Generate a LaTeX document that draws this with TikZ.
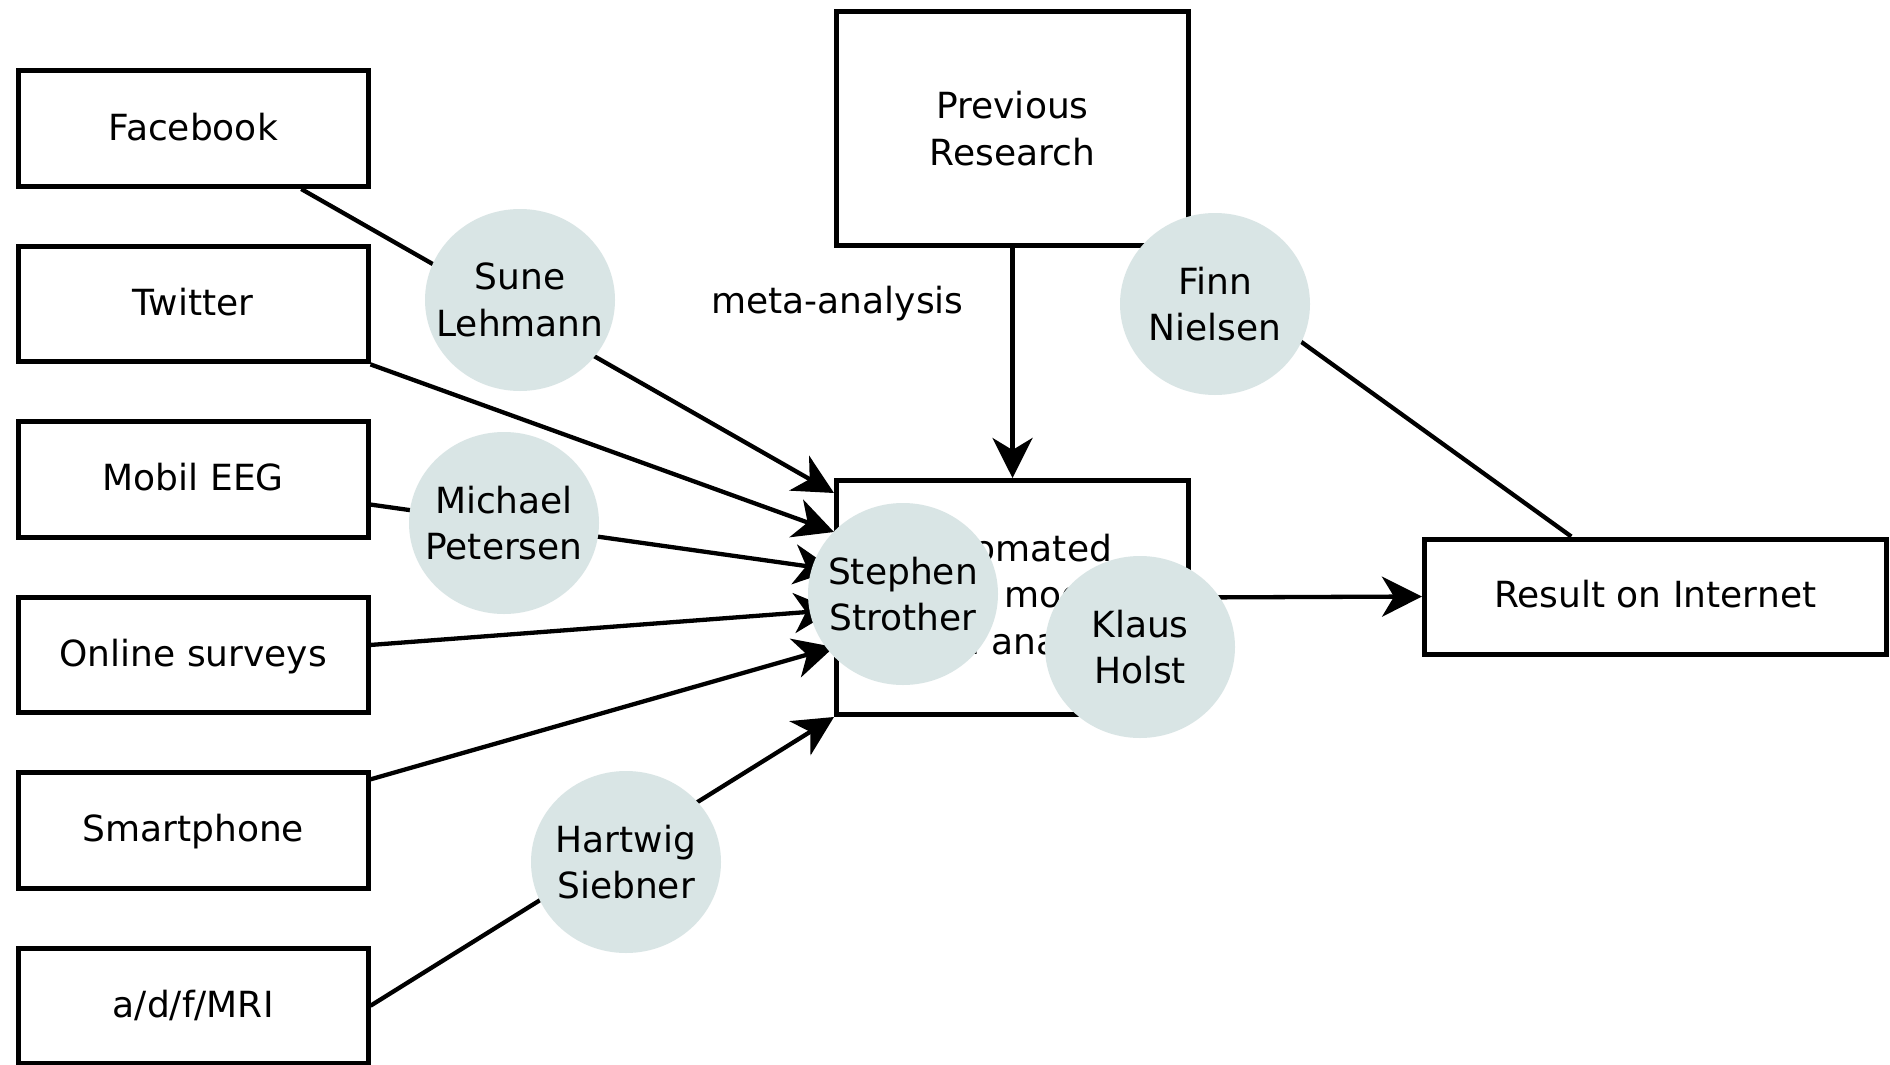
\documentclass[tikz,border=0pt]{standalone}
\usepackage{fontspec}
\setmainfont{DejaVu Sans}
\usetikzlibrary{arrows.meta,shapes.geometric,calc}
\definecolor{bubble}{RGB}{217,229,229}
\begin{document}
\begin{tikzpicture}[x=1pt,y=-1pt,
  every node/.style={font=\fontsize{36pt}{46.5pt}\selectfont},
  box/.style={draw,line width=5pt,inner sep=0pt},
  srcbox/.style={box,minimum width=349.5pt,minimum height=115.5pt,text height=27pt,text depth=4.5pt},
  bigbox/.style={box,minimum width=352pt,minimum height=234pt},
  resbox/.style={box,minimum width=461.5pt,minimum height=115pt,text height=27pt,text depth=4.5pt},
  person/.style={ellipse,fill=bubble,inner xsep=-40pt,inner ysep=0pt,minimum width=190pt,minimum height=182pt,align=center},
  conn/.style={line width=4.3pt},
  arr/.style={conn,-{Stealth[length=40pt,width=40pt,inset=12pt]}}]
\useasboundingbox (0,0) rectangle (1890,1065);
\fill[white] (0,0) rectangle (1890,1065);

% source boxes
\node[srcbox] (fb)  at (193.25,128.75) {Facebook};
\node[srcbox] (tw)  at (193.25,304.15) {Twitter};
\node[srcbox] (eeg) at (193.25,479.55) {Mobil EEG};
\node[srcbox] (onl) at (193.25,654.95) {Online surveys};
\node[srcbox] (sp)  at (193.25,830.35) {Smartphone};
\node[srcbox] (mri) at (193.25,1005.75) {a/d/f/MRI};

% main boxes
\node[bigbox,align=center] (prev) at (1012.5,128.5) {Previous\\Research};
\node[bigbox] (ctr) at (1012.5,597.5) {};
\node[align=left,anchor=west,inner sep=0pt] (ctrtext) at (912,598) {Automated\\data modeling\\and analysis};
\node[resbox] (res) at (1655.25,596.5) {Result on Internet};

\node[anchor=base,inner sep=0pt] (meta) at (837.5,313) {meta-analysis};

% connectors
\draw[arr] ($(fb.south)+(108,0)$) -- ($(ctr.west)+(0,-104.5)$);
\draw[arr] (tw.south east) -- ($(ctr.west)+(0,-65.5)$);
\draw[arr] ($(eeg.east)+(0,25)$) -- ($(ctr.west)+(0,-27.5)$);
\draw[arr] ($(onl.east)+(0,-10)$) -- ($(ctr.west)+(0,12.5)$);
\draw[arr] ($(sp.east)+(0,-51)$) -- ($(ctr.west)+(0,49.5)$);
\draw[arr] (mri.east) -- (ctr.south west);
\draw[arr] (prev.south) -- (ctr.north);
\draw[arr] (ctr.east) -- (res.west);
\draw[conn] ($(prev.south east)+(-20,0)$) -- ($(res.north)+(-84,0)$);

% people
\node[person] (sune)  at (520,300) {Sune\\Lehmann};
\node[person] (mich)  at (504,523) {Michael\\Petersen};
\node[person] (steph) at (903,594) {Stephen\\Strother};
\node[person] (klaus) at (1140,647) {Klaus\\Holst};
\node[person] (finn)  at (1215,304) {Finn\\Nielsen};
\node[person] (hart)  at (626,862) {Hartwig\\Siebner};
\end{tikzpicture}
\end{document}
